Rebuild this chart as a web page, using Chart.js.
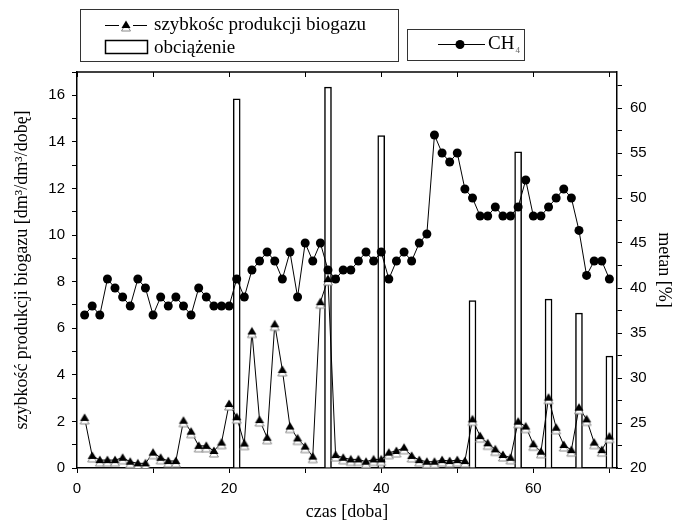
<html>
<head>
    <title>biogaz</title>
    <script src="https://cdn.jsdelivr.net/npm/chart.js"></script>
    <style>
        body { margin: 0; background: #fff; }
        #wrap { width: 675px; height: 528px; }
    </style>
</head>
<body>
<div id="wrap"><canvas id="chart" width="675" height="528"></canvas></div>

<script>
    // dni pomiarów
    const days = [1, 2, 3, 4, 5, 6, 7, 8, 9, 10, 11, 12, 13, 14, 15, 16, 17, 18, 19, 20,
        21, 22, 23, 24, 25, 26, 27, 28, 29, 30, 31, 32, 33, 34, 35, 36, 37, 38, 39, 40,
        41, 42, 43, 44, 45, 46, 47, 48, 49, 50, 51, 52, 53, 54, 55, 56, 57, 58, 59, 60,
        61, 62, 63, 64, 65, 66, 67, 68, 69, 70];

    // szybkość produkcji biogazu [dm3/dm3/dobę]
    const biogas = [2.15, 0.52, 0.34, 0.34, 0.34, 0.44, 0.27, 0.20, 0.20, 0.66,
        0.44, 0.30, 0.30, 2.03, 1.56, 0.95, 0.95, 0.73, 1.09, 2.75,
        2.18, 1.05, 5.86, 2.06, 1.30, 6.17, 4.21, 1.78, 1.27, 0.92,
        0.49, 7.12, 8.11, 0.56, 0.44, 0.37, 0.37, 0.27, 0.37, 0.37,
        0.66, 0.73, 0.87, 0.52, 0.34, 0.27, 0.27, 0.34, 0.30, 0.34,
        0.30, 2.09, 1.37, 1.06, 0.80, 0.56, 0.44, 1.99, 1.78, 1.02,
        0.70, 3.02, 1.73, 0.99, 0.77, 2.59, 2.09, 1.09, 0.77, 1.35];

    // metan [%]
    const ch4 = [37, 38, 37, 41, 40, 39, 38, 41, 40, 37,
        39, 38, 39, 38, 37, 40, 39, 38, 38, 38,
        41, 39, 42, 43, 44, 43, 41, 44, 39, 45,
        43, 45, 42, 41, 42, 42, 43, 44, 43, 44,
        41, 43, 44, 43, 45, 46, 57, 55, 54, 55,
        51, 50, 48, 48, 49, 48, 48, 49, 52, 48,
        48, 49, 50, 51, 50, 46.4, 41.4, 43, 43, 41];

    // obciążenie
    const loadDays = [21, 33, 40, 52, 58, 62, 66, 70];
    const load = [15.85, 16.35, 14.27, 7.19, 13.57, 7.25, 6.65, 4.8];

    const xTicks = [0, 20, 40, 60];
    const yTicks = [0, 2, 4, 6, 8, 10, 12, 14, 16];
    const y1Ticks = [20, 25, 30, 35, 40, 45, 50, 55, 60];

    const serif = '"Liberation Serif", "DejaVu Serif", serif';
    const sans = '"Liberation Sans", Arial, sans-serif';

    // trójkąt z "cieniem" jak w oryginale
    function makeTriangle() {
        const c = document.createElement('canvas');
        c.width = 18;
        c.height = 22;
        const g = c.getContext('2d');
        g.beginPath();
        g.moveTo(9, 9.5);
        g.lineTo(13.5, 17);
        g.lineTo(4.5, 17);
        g.closePath();
        g.fillStyle = '#fff';
        g.fill();
        g.strokeStyle = '#888';
        g.lineWidth = 1;
        g.stroke();
        g.beginPath();
        g.moveTo(9, 6.5);
        g.lineTo(13.5, 14);
        g.lineTo(4.5, 14);
        g.closePath();
        g.fillStyle = '#000';
        g.fill();
        return c;
    }
    const tri = makeTriangle();

    const frame = {
        id: 'frame',
        afterDraw(chart) {
            const ctx = chart.ctx;
            const a = chart.chartArea;
            const xs = chart.scales.x;
            ctx.save();
            ctx.strokeStyle = '#000';
            ctx.lineWidth = 1.5;
            ctx.beginPath();
            ctx.moveTo(a.left, a.top);
            ctx.lineTo(a.right, a.top);
            ctx.stroke();
            ctx.lineWidth = 1;
            for (let v = 0; v <= 70; v += 10) {
                const px = Math.round(xs.getPixelForValue(v)) + 0.5;
                ctx.beginPath();
                ctx.moveTo(px, a.top);
                ctx.lineTo(px, a.top + 5);
                ctx.stroke();
            }

            // legenda 1
            ctx.strokeStyle = '#333';
            ctx.lineWidth = 1;
            ctx.strokeRect(80.5, 9.5, 318, 52);
            ctx.strokeStyle = '#000';
            ctx.beginPath();
            ctx.moveTo(105, 25.5);
            ctx.lineTo(119, 25.5);
            ctx.moveTo(133, 25.5);
            ctx.lineTo(147, 25.5);
            ctx.stroke();
            ctx.drawImage(tri, 126 - 9, 25 - 11);
            ctx.lineWidth = 1.5;
            ctx.strokeRect(105.5, 40.5, 42, 13);
            ctx.fillStyle = '#000';
            ctx.font = '19px ' + serif;
            ctx.textBaseline = 'middle';
            ctx.textAlign = 'left';
            ctx.fillText('szybkośc produkcji biogazu', 154, 25);
            ctx.fillText('obciążenie', 154, 48);

            // legenda 2
            ctx.strokeStyle = '#333';
            ctx.lineWidth = 1;
            ctx.strokeRect(407.5, 29.5, 117, 31);
            ctx.strokeStyle = '#000';
            ctx.beginPath();
            ctx.moveTo(438, 44.5);
            ctx.lineTo(485, 44.5);
            ctx.stroke();
            ctx.beginPath();
            ctx.arc(460, 44.5, 4.5, 0, Math.PI * 2);
            ctx.fill();
            ctx.fillText('CH', 488, 44);
            const w = ctx.measureText('CH').width;
            ctx.font = '9px ' + serif;
            ctx.fillStyle = '#666';
            ctx.fillText('4', 488 + w + 1, 51);
            ctx.restore();
        }
    };

    const ctx = document.getElementById('chart').getContext('2d');

    new Chart(ctx, {
        type: 'line',
        data: {
            datasets: [{
                label: 'szybkośc produkcji biogazu',
                data: days.map((d, i) => ({x: d, y: biogas[i]})),
                yAxisID: 'y',
                borderColor: '#000',
                borderWidth: 1,
                pointStyle: tri,
                order: 1
            }, {
                label: 'CH4',
                data: days.map((d, i) => ({x: d, y: ch4[i]})),
                yAxisID: 'y1',
                borderColor: '#000',
                borderWidth: 1,
                pointStyle: 'circle',
                pointRadius: 4.5,
                pointBackgroundColor: '#000',
                pointBorderColor: '#000',
                pointBorderWidth: 0,
                order: 2
            }, {
                type: 'bar',
                label: 'obciążenie',
                data: loadDays.map((d, i) => ({x: d, y: load[i]})),
                yAxisID: 'y',
                backgroundColor: '#fff',
                borderColor: '#000',
                borderWidth: 1.5,
                barThickness: 7,
                grouped: false,
                order: 3
            }]
        },
        options: {
            responsive: false,
            animation: false,
            layout: {padding: {top: 72, left: 0, right: 0, bottom: 0}},
            plugins: {
                legend: {display: false},
                tooltip: {enabled: false}
            },
            scales: {
                x: {
                    type: 'linear',
                    min: 0,
                    max: 71,
                    offset: false,
                    afterFit: s => { s.height = 60; },
                    afterBuildTicks: s => { s.ticks = [0, 10, 20, 30, 40, 50, 60, 70].map(v => ({value: v})); },
                    grid: {drawOnChartArea: false, tickLength: 5, color: '#000', offset: false},
                    border: {color: '#000', width: 1.5},
                    ticks: {
                        autoSkip: false,
                        maxRotation: 0,
                        padding: 7,
                        color: '#000',
                        font: {family: sans, size: 15},
                        callback: v => xTicks.includes(v) ? String(v) : ''
                    },
                    title: {
                        display: true,
                        text: 'czas [doba]',
                        color: '#000',
                        font: {family: serif, size: 18},
                        padding: {top: 0, bottom: 5}
                    }
                },
                y: {
                    position: 'left',
                    min: 0,
                    max: 17,
                    afterFit: s => { s.width = 77; },
                    afterBuildTicks: s => {
                        const t = [];
                        for (let v = 0; v <= 17; v++) t.push({value: v});
                        s.ticks = t;
                    },
                    grid: {drawOnChartArea: false, tickLength: 5, color: '#000'},
                    border: {color: '#000', width: 1.5},
                    ticks: {
                        autoSkip: false,
                        padding: 7,
                        color: '#000',
                        font: {family: sans, size: 15},
                        callback: v => yTicks.includes(v) ? String(v) : ''
                    },
                    title: {
                        display: true,
                        text: 'szybkość produkcji biogazu [dm³/dm³/dobę]',
                        color: '#000',
                        font: {family: serif, size: 18},
                        padding: {top: 11, bottom: 0}
                    }
                },
                y1: {
                    position: 'right',
                    min: 20,
                    max: 64,
                    afterFit: s => { s.width = 58; },
                    afterBuildTicks: s => {
                        const t = [];
                        for (let v = 20; v <= 62.5; v += 2.5) t.push({value: v});
                        s.ticks = t;
                    },
                    grid: {drawOnChartArea: false, tickLength: 5, color: '#000'},
                    border: {color: '#000', width: 1.5},
                    ticks: {
                        autoSkip: false,
                        padding: 8,
                        color: '#000',
                        font: {family: sans, size: 15},
                        callback: v => y1Ticks.includes(v) ? String(v) : ''
                    },
                    title: {
                        display: true,
                        text: 'metan [%]',
                        color: '#000',
                        font: {family: serif, size: 18, lineHeight: 1},
                        padding: {top: 2, bottom: 0}
                    }
                }
            }
        },
        plugins: [frame]
    });
</script>
</body>
</html>
